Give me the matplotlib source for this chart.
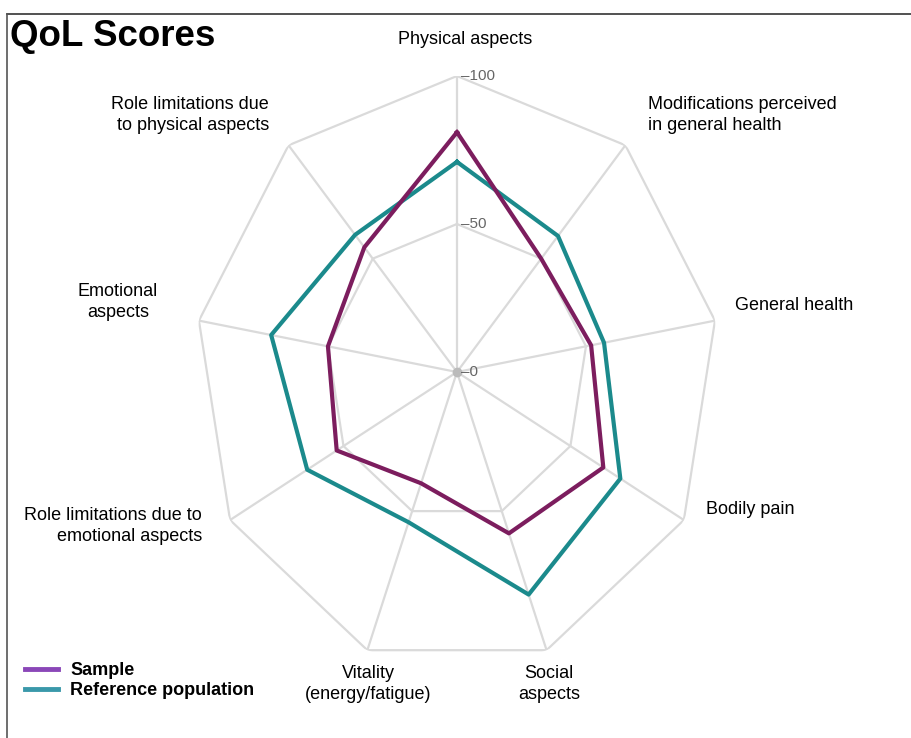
import numpy as np
import matplotlib.pyplot as plt
from matplotlib.lines import Line2D

plt.rcParams['font.family'] = ['Liberation Sans', 'DejaVu Sans']

categories = ['Physical aspects', 'Modifications perceived\nin general health', 'General health',
              'Bodily pain', 'Social\naspects', 'Vitality\n(energy/fatigue)',
              'Role limitations due to\nemotional aspects', 'Emotional\naspects',
              'Role limitations due\nto physical aspects']
sample = [81, 50, 52, 64.5, 58, 40, 53, 50, 55]
reference = [71, 60, 57, 72, 80, 54, 66, 72, 60.5]
rticks = [0, 50, 100]

n = len(categories)
# clockwise from top
theta = np.pi / 2 - np.arange(n) * 2 * np.pi / n

fig = plt.figure(figsize=(9.11, 7.38), dpi=100)
ax = fig.add_axes([0.2140, 0.0948, 0.5752, 0.8022], projection='polar')
ax.set_aspect('auto')
ax.set_ylim(0, 100)
ax.grid(False)
ax.spines['polar'].set_visible(False)
ax.set_xticks([])
ax.set_yticks([])
ax.patch.set_alpha(0)

grid_col = '#dadada'
for r in rticks[1:]:
    ax.plot(np.append(theta, theta[0]), [r] * (n + 1), color=grid_col, lw=1.6, zorder=1)
for t in theta:
    ax.plot([t, t], [0, 100], color=grid_col, lw=1.6, zorder=1)
ax.plot([0], [0], 'o', color='#bbbbbb', ms=6, zorder=2)

for r in rticks:
    ax.annotate('\u2013' + str(r), xy=(np.pi / 2, r), xytext=(3, 0), textcoords='offset points',
                va='center', ha='left', fontsize=11, color='#666666', fontstretch='condensed')

ax.plot(np.append(theta, theta[0]), reference + reference[:1], color='#1b8a8c', lw=3, zorder=3)
ax.plot(np.append(theta, theta[0]), sample + sample[:1], color='#7c1d5e', lw=3, zorder=4)

# category labels (pixel positions from the original layout)
W, H = 911, 738
lab_pos = [(465, 39, 'center'), (648, 115, 'left'), (735, 306, 'left'), (706, 509, 'left'),
           (549, 684, 'center'), (368, 684, 'center'), (202, 526, 'right'),
           (118, 302, 'center'), (269, 115, 'right')]
for lab, (x, y, ha) in zip(categories, lab_pos):
    fig.text(x / W, 1 - y / H, lab, ha=ha, va='center', fontsize=13,
             multialignment=ha, linespacing=1.35)

fig.text(10 / W, 1 - 37 / H, 'QoL Scores', ha='left', va='center', fontsize=26.5, fontweight='bold')

handles = [Line2D([], [], color='#8a47b8', lw=3.5), Line2D([], [], color='#3a98aa', lw=3.5)]
fig.legend(handles, ['Sample', 'Reference population'], loc='upper left',
           bbox_to_anchor=(9 / W, 1 - 646 / H), frameon=False, handlelength=1.8,
           handletextpad=0.7, labelspacing=0.15, prop={'weight': 'bold', 'size': 13})

# frame lines on top and left
fig.add_artist(Line2D([7 / W, 1], [1 - 14 / H, 1 - 14 / H], color='#333333', lw=1.2))
fig.add_artist(Line2D([7 / W, 7 / W], [0, 1 - 14 / H], color='#555555', lw=1.2))

fig.savefig('out.png', dpi=100)
